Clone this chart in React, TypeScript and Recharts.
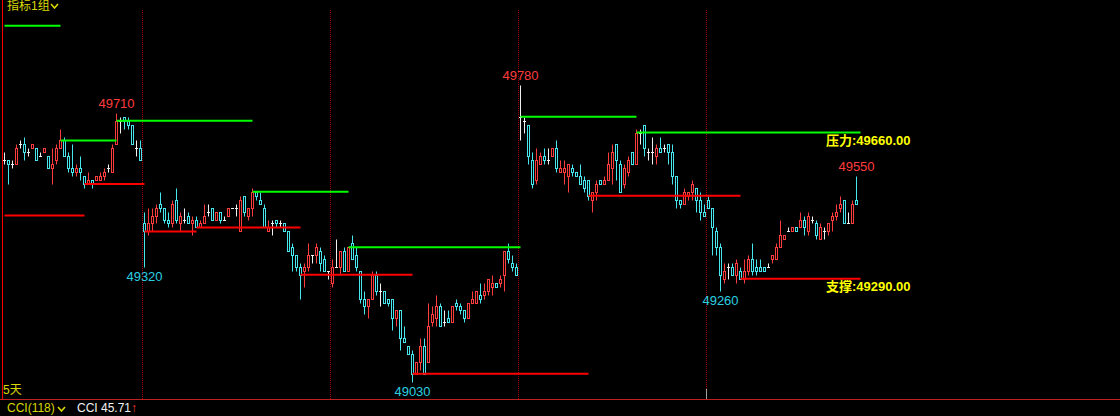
import React from "react"
import { ComposedChart, Bar, XAxis, YAxis, ReferenceLine, ReferenceDot } from "recharts"

// 颜色
const UP = "#ff3c3c"
const DOWN = "#46e6ee"
const FLAT = "#f0f0f0"
const GREEN = "#00ff00"
const RED = "#ff0000"
const YELLOW = "#ffff00"
const DIM_YELLOW = "#d8d800"
const FONT = "'Liberation Sans', Arial, 'Noto Sans CJK SC', sans-serif"

// K线 [开, 高, 低, 收] — 每天一组
const day1 = [
  [49590, 49610, 49580, 49590], [49590, 49590, 49530, 49580], [49580, 49590, 49570, 49580],
  [49580, 49630, 49580, 49620], [49630, 49640, 49620, 49630], [49630, 49650, 49590, 49610],
  [49610, 49620, 49600, 49610], [49620, 49630, 49620, 49630], [49620, 49620, 49590, 49590],
  [49600, 49610, 49600, 49600], [49610, 49620, 49610, 49620], [49600, 49600, 49570, 49570],
  [49570, 49620, 49530, 49580], [49590, 49630, 49580, 49620], [49620, 49670, 49620, 49640],
  [49640, 49650, 49600, 49600], [49600, 49610, 49560, 49570], [49570, 49630, 49550, 49560],
  [49560, 49580, 49550, 49570], [49570, 49600, 49540, 49560], [49550, 49550, 49520, 49530],
  [49530, 49560, 49530, 49540], [49540, 49540, 49520, 49530], [49540, 49550, 49540, 49550],
  [49540, 49560, 49540, 49550], [49550, 49570, 49540, 49560], [49570, 49580, 49560, 49570],
  [49560, 49630, 49560, 49620], [49630, 49710, 49630, 49690], [49690, 49700, 49660, 49690],
  [49700, 49700, 49670, 49690], [49690, 49700, 49670, 49680], [49680, 49680, 49630, 49630],
  [49620, 49640, 49600, 49620], [49620, 49640, 49590, 49590],
]
const day2 = [
  [49430, 49460, 49320, 49410], [49410, 49470, 49400, 49430], [49430, 49470, 49410, 49450],
  [49450, 49480, 49430, 49470], [49480, 49510, 49460, 49470], [49470, 49470, 49430, 49440],
  [49440, 49460, 49420, 49430], [49430, 49490, 49420, 49480], [49490, 49520, 49430, 49440],
  [49430, 49460, 49410, 49450], [49440, 49470, 49430, 49440], [49450, 49460, 49430, 49430],
  [49430, 49450, 49400, 49440], [49440, 49450, 49420, 49420], [49420, 49440, 49420, 49430],
  [49430, 49480, 49430, 49450], [49460, 49480, 49450, 49460], [49470, 49470, 49440, 49440],
  [49440, 49460, 49440, 49460], [49460, 49460, 49430, 49440], [49440, 49450, 49440, 49440],
  [49450, 49470, 49450, 49470], [49470, 49470, 49470, 49470], [49470, 49480, 49450, 49470],
  [49410, 49500, 49410, 49490], [49500, 49500, 49450, 49460], [49450, 49470, 49440, 49470],
  [49470, 49520, 49450, 49510], [49510, 49510, 49490, 49500], [49490, 49510, 49480, 49480],
  [49470, 49480, 49420, 49420], [49410, 49440, 49410, 49420], [49430, 49440, 49400, 49430],
  [49440, 49440, 49420, 49430], [49430, 49440, 49420, 49430], [49430, 49430, 49410, 49410],
  [49410, 49410, 49360, 49360], [49370, 49380, 49310, 49350], [49350, 49350, 49310, 49320],
  [49320, 49330, 49240, 49300], [49310, 49330, 49270, 49320], [49320, 49380, 49310, 49350],
  [49350, 49350, 49330, 49350], [49350, 49380, 49330, 49370], [49360, 49370, 49310, 49330],
  [49340, 49350, 49310, 49310], [49310, 49310, 49290, 49310],
]
const day3 = [
  [49280, 49340, 49270, 49320], [49320, 49390, 49320, 49320], [49320, 49360, 49300, 49360],
  [49360, 49370, 49310, 49310], [49310, 49370, 49310, 49370], [49380, 49400, 49340, 49340],
  [49350, 49370, 49310, 49320], [49310, 49310, 49230, 49240], [49240, 49260, 49200, 49220],
  [49220, 49240, 49190, 49240], [49240, 49310, 49240, 49300], [49300, 49310, 49250, 49260],
  [49260, 49280, 49220, 49260], [49260, 49260, 49230, 49230], [49240, 49240, 49220, 49230],
  [49240, 49240, 49160, 49190], [49190, 49210, 49170, 49210], [49210, 49210, 49110, 49140],
  [49140, 49170, 49130, 49130], [49120, 49120, 49100, 49100], [49100, 49110, 49030, 49050],
  [49050, 49080, 49050, 49080], [49080, 49140, 49060, 49120], [49120, 49140, 49050, 49050],
  [49080, 49230, 49080, 49170], [49180, 49220, 49170, 49200], [49190, 49250, 49170, 49220],
  [49220, 49230, 49170, 49170], [49180, 49210, 49170, 49180], [49190, 49210, 49180, 49180],
  [49180, 49220, 49180, 49220], [49230, 49240, 49210, 49220], [49220, 49230, 49200, 49210],
  [49210, 49210, 49180, 49190], [49190, 49230, 49190, 49230], [49230, 49260, 49230, 49240],
  [49230, 49260, 49230, 49260], [49250, 49280, 49230, 49240], [49250, 49280, 49240, 49260],
  [49260, 49290, 49250, 49290], [49270, 49300, 49250, 49280], [49280, 49280, 49270, 49270],
  [49280, 49300, 49270, 49290], [49300, 49360, 49260, 49360], [49360, 49380, 49330, 49340],
  [49330, 49350, 49310, 49320], [49320, 49330, 49300, 49300],
]
const day4 = [
  [49700, 49780, 49640, 49700], [49690, 49700, 49660, 49690], [49680, 49680, 49580, 49600],
  [49590, 49610, 49520, 49530], [49540, 49620, 49530, 49590], [49580, 49610, 49580, 49600],
  [49600, 49620, 49580, 49590], [49590, 49620, 49580, 49590], [49600, 49620, 49600, 49620],
  [49620, 49640, 49560, 49570], [49560, 49590, 49560, 49570], [49560, 49590, 49530, 49570],
  [49550, 49580, 49510, 49580], [49570, 49580, 49550, 49560], [49560, 49560, 49550, 49550],
  [49550, 49580, 49530, 49530], [49540, 49550, 49510, 49520], [49540, 49540, 49490, 49500],
  [49490, 49510, 49460, 49510], [49510, 49540, 49490, 49530], [49540, 49540, 49530, 49530],
  [49530, 49550, 49530, 49540], [49540, 49610, 49540, 49580], [49570, 49630, 49530, 49610],
  [49630, 49630, 49540, 49590], [49580, 49590, 49510, 49510], [49530, 49580, 49520, 49570],
  [49560, 49600, 49550, 49590], [49610, 49610, 49580, 49580], [49580, 49670, 49580, 49660],
  [49660, 49670, 49630, 49660], [49680, 49680, 49600, 49620], [49610, 49620, 49590, 49610],
  [49610, 49650, 49580, 49610], [49600, 49630, 49580, 49620], [49620, 49650, 49610, 49610],
  [49620, 49630, 49610, 49620], [49630, 49630, 49580, 49610], [49610, 49630, 49530, 49550],
  [49550, 49550, 49470, 49490], [49490, 49490, 49470, 49480], [49480, 49520, 49480, 49510],
  [49500, 49510, 49490, 49510], [49510, 49540, 49490, 49530], [49520, 49520, 49460, 49490],
  [49490, 49510, 49440, 49460], [49460, 49480, 49450, 49450],
]
const day5 = [
  [49490, 49500, 49470, 49470], [49470, 49470, 49350, 49420], [49410, 49420, 49350, 49370],
  [49370, 49380, 49260, 49300], [49290, 49330, 49280, 49310], [49320, 49330, 49290, 49320],
  [49320, 49330, 49300, 49300], [49300, 49340, 49280, 49330], [49310, 49320, 49290, 49290],
  [49290, 49340, 49280, 49310], [49310, 49350, 49300, 49340], [49340, 49380, 49300, 49310],
  [49320, 49340, 49300, 49310], [49320, 49340, 49310, 49310], [49320, 49320, 49310, 49310],
  [49320, 49330, 49320, 49320], [49340, 49350, 49330, 49350], [49340, 49380, 49340, 49370],
  [49370, 49440, 49370, 49400], [49390, 49400, 49390, 49400], [49410, 49420, 49410, 49410],
  [49410, 49420, 49410, 49420], [49420, 49420, 49410, 49410], [49420, 49460, 49420, 49440],
  [49440, 49450, 49400, 49420], [49410, 49460, 49400, 49450], [49440, 49450, 49430, 49440],
  [49430, 49440, 49390, 49400], [49390, 49430, 49390, 49420], [49410, 49420, 49390, 49410],
  [49410, 49430, 49400, 49430], [49440, 49460, 49410, 49450], [49450, 49480, 49440, 49460],
  [49470, 49500, 49460, 49480], [49490, 49490, 49430, 49430], [49430, 49460, 49430, 49430],
  [49430, 49490, 49430, 49480], [49490, 49550, 49480, 49480],
]
const days = [day1, day2, day3, day4, day5]

// 压力线(绿) / 支撑线(红): [起, 止, 价]
const greenLevels = [
  [0, 14, 49930], [14, 28, 49640], [28, 62, 49690], [62, 86, 49510],
  [86, 129, 49370], [129, 158, 49700], [158, 214, 49660],
]
const redLevels = [
  [0, 20, 49450], [20, 35, 49530], [35, 48, 49410], [48, 74, 49420],
  [74, 102, 49300], [102, 146, 49050], [146, 184, 49500], [184, 214, 49290],
]

// 高低点标注
const highMarks = [[28, 49710], [129, 49780], [213, 49550]]
const lowMarks = [[35, 49320], [102, 49030], [179, 49260]]

const SLOTS = 279
const allBars = days.flat()
const rows = Array.from({ length: SLOTS }, (_, i) => {
  const b = allBars[i]
  return b ? { i, o: b[0], h: b[1], l: b[2], c: b[3] } : { i }
})
const dayEnds: number[] = []
days.slice(0, -1).reduce((acc, d) => {
  dayEnds.push(acc + d.length - 1)
  return acc + d.length
}, 0)

const Candle = (props: any) => {
  const { x, y, width, height, payload } = props
  if (!payload || payload.h == null) return <g />
  const { o, h, l, c } = payload
  const cx = Math.floor(x + width / 2) + 0.5
  const k = h === l ? 0 : height / (h - l)
  const py = (v: number) => Math.round(y + (h - v) * k) + 0.5
  const color = c > o ? UP : c < o ? DOWN : FLAT
  const top = py(Math.max(o, c))
  const bot = py(Math.min(o, c))
  const hi = py(h)
  const lo = py(l)
  return (
    <g>
      {hi < top && <line x1={cx} x2={cx} y1={hi} y2={top} stroke={color} />}
      {lo > bot && <line x1={cx} x2={cx} y1={bot} y2={lo} stroke={color} />}
      {c === o ? (
        <line x1={cx - 1.5} x2={cx + 1.5} y1={top} y2={top} stroke={color} />
      ) : (
        <rect x={cx - 1} y={top} width={2} height={bot - top} fill="none" stroke={color} />
      )}
    </g>
  )
}

const Chevron = ({ left, top }: { left: number; top: number }) => (
  <svg width={9} height={6} style={{ position: "absolute", left, top }}>
    <polyline points="1,1 4.5,5 8,1" fill="none" stroke={DIM_YELLOW} strokeWidth={1.6} />
  </svg>
)

export default function App() {
  const txt = (left: number, top: number, color: string, extra: any = {}) => ({
    position: "absolute" as const, left, top, color, fontFamily: FONT, fontSize: 12,
    lineHeight: "14px", whiteSpace: "nowrap" as const, ...extra,
  })
  return (
    <div style={{ position: "absolute", left: 0, top: 0, width: 1120, height: 416, background: "#000", overflow: "hidden" }}>
      <ComposedChart width={1120} height={416} data={rows} barCategoryGap={0}
        margin={{ top: 10, right: 1.5, bottom: 17, left: 2.5 }}>
        <XAxis dataKey="i" type="category" hide />
        <YAxis type="number" domain={[48986, 49970]} hide allowDataOverflow />
        {dayEnds.map((d) => (
          <ReferenceLine key={"sep" + d} x={d} position="end" stroke="#a00000" strokeDasharray="1 1" />
        ))}
        <Bar dataKey={(d: any) => (d.h == null ? null : [d.l, d.h])} shape={Candle} isAnimationActive={false} />
        {greenLevels.map(([a, b, v]) => (
          <ReferenceLine key={"g" + a} segment={[{ x: a, y: v }, { x: b, y: v }]} stroke={GREEN} strokeWidth={2} />
        ))}
        {redLevels.map(([a, b, v]) => (
          <ReferenceLine key={"r" + a} segment={[{ x: a, y: v }, { x: b, y: v }]} stroke={RED} strokeWidth={2} />
        ))}
        {highMarks.map(([i, v]) => (
          <ReferenceDot key={"h" + i} x={i} y={v} r={0} stroke="none" fill="none"
            label={{ value: String(v), position: "top", fill: UP, fontSize: 13, fontFamily: FONT }} />
        ))}
        {lowMarks.map(([i, v]) => (
          <ReferenceDot key={"l" + i} x={i} y={v} r={0} stroke="none" fill="none"
            label={{ value: String(v), position: "bottom", fill: "#2ad0e0", fontSize: 13, fontFamily: FONT }} />
        ))}
      </ComposedChart>

      <div style={{ position: "absolute", left: 2, top: 0, width: 1, height: 399, background: RED }} />
      <div style={{ position: "absolute", left: 0, top: 399, width: 1120, height: 1, background: "#c02020" }} />
      <div style={{ position: "absolute", left: 706, top: 389, width: 1, height: 10, background: "#a0a0a0" }} />

      <div style={txt(7, 0, DIM_YELLOW, { lineHeight: "12px" })}>指标1组</div>
      <Chevron left={50} top={3} />

      <div style={txt(826, 134, YELLOW, { fontWeight: "bold", fontSize: 13 })}>压力:49660.00</div>
      <div style={txt(826, 280, YELLOW, { fontWeight: "bold", fontSize: 13 })}>支撑:49290.00</div>

      <div style={txt(3, 383, DIM_YELLOW)}>5天</div>
      <div style={txt(7, 401, DIM_YELLOW)}>CCI(118)</div>
      <Chevron left={57} top={406} />
      <div style={txt(77, 401, "#f2f2f2")}>CCI 45.71</div>
      <div style={txt(131, 401, UP)}>↑</div>
    </div>
  )
}
